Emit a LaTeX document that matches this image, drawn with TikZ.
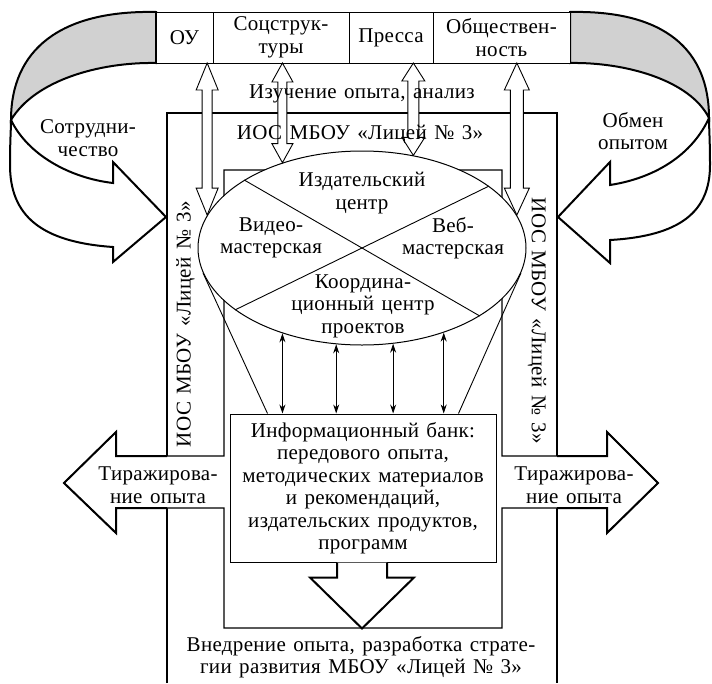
\documentclass[tikz,border=0pt]{standalone}
\usepackage{fontspec}
\setmainfont{Liberation Serif}[WordSpace=1.35,LetterSpace=1.5]
\usetikzlibrary{calc,positioning,arrows.meta,shapes.geometric}
% hollow double arrow: (top)(bottom)(head length:half shaft width)
\def\fatarrow(#1)(#2)(#3:#4){\draw[fatline] let \p1=(#1), \p2=(#2), \n1={#4+6} in
  (\p1) -- (\x1+\n1,\y1-#3) -- (\x1+#4,\y1-#3) -- (\x2+#4,\y2+#3) -- (\x2+\n1,\y2+#3)
  -- (\p2) -- (\x2-\n1,\y2+#3) -- (\x2-#4,\y2+#3) -- (\x1-#4,\y1-#3) -- (\x1-\n1,\y1-#3) -- cycle;}

\begin{document}
\begin{tikzpicture}[x=1pt,y=-1pt,
    every node/.style={font=\fontsize{21}{22.5}\selectfont},
    box/.style={draw,line width=1pt,fill=white,minimum height=51pt,inner sep=1pt,outer sep=0pt,align=center},
    frame/.style={line width=1.1pt},
    ribbon/.style={draw,line width=2pt,line join=miter,fill=white},
    fatline/.style={line width=0.9pt,fill=white,line join=miter},
    thinarrow/.style={<->,>={Stealth[length=9pt,width=6pt]},line width=0.9pt},
    lbl/.style={align=center,inner sep=0pt}]
  \useasboundingbox (0,0) rectangle (712,683);

  %%%%% curved arrows %%%%%
  \draw[ribbon,fill=black!18] (156,12) .. controls (60,10) and (11,50) .. (11,120)
    .. controls (35,80) and (100,62) .. (156,63) -- cycle;
  \draw[ribbon] (11,120) .. controls (28,155) and (70,178) .. (113,183) -- (113,162) -- (166,217)
    -- (113,262) -- (113,247) .. controls (40,242) and (10,215) .. (10,165)
    .. controls (10,140) and (11,130) .. (11,120) -- cycle;

  \draw[ribbon,fill=black!18] (570,12) .. controls (665,10) and (709,50) .. (709,118)
    .. controls (690,80) and (625,62) .. (570,63) -- cycle;
  \draw[ribbon] (709,118) .. controls (692,155) and (655,178) .. (610,185) -- (610,162) -- (558,217)
    -- (610,263) -- (610,240) .. controls (680,236) and (710,212) .. (710,165)
    .. controls (710,140) and (709,128) .. (709,118) -- cycle;

  %%%%% top row %%%%%
  \node[box,minimum width=57pt] (ou) at (184.5,37.5) {ОУ};
  \node[box,minimum width=136pt,right=0pt of ou] (soc) {Соцструк-\\туры};
  \node[box,minimum width=84pt,right=0pt of soc] (press) {Пресса};
  \node[box,minimum width=137pt,right=0pt of press] (obsh) {Обществен-\\ность};

  %%%%% frames %%%%%
  \draw[frame] (167,683) -- (167,113) -- (557,113) -- (557,683);
  \draw[frame,fill=white] (224,170) -- (224,456) -- (116,456) -- (116,432) -- (64,483) -- (116,533)
    -- (116,508) -- (224,508) -- (224,628) -- (502,628) -- (502,508) -- (607,508) -- (607,533)
    -- (658,483) -- (607,432) -- (607,456) -- (502,456) -- (502,170) -- cycle;
  \draw[ribbon,fill=none] (167,456) -- (116,456) -- (116,432) -- (64,483) -- (116,533) -- (116,508) -- (167,508);
  \draw[ribbon,fill=none] (557,456) -- (607,456) -- (607,432) -- (658,483) -- (607,533) -- (607,508) -- (557,508);

  %%%%% ellipse %%%%%
  \node[draw,fill=white,ellipse,line width=1pt,minimum width=328pt,minimum height=194pt,inner sep=0pt] (ell) at (362,248) {};
  \draw[line width=0.9pt] (ell.150) -- (ell.-30);
  \draw[line width=0.9pt] (ell.26) -- (ell.206);
  \node[lbl] (izd) at (362,193) {Издательский\\центр};
  \node[lbl] (video) at (271,238) {Видео-\\мастерская};
  \node[lbl] (web) at (453,238) {Веб-\\мастерская};
  \node[lbl] (koord) at (363,306) {Координа-\\ционный центр\\проектов};

  %%%%% bank %%%%%
  \node[draw,fill=white,line width=1pt,minimum width=266pt,minimum height=148pt,align=center,inner sep=0pt] (bank) at (363,488)
    {Информационный банк:\\передового опыта,\\методических материалов\\и рекомендаций,\\издательских продуктов,\\программ};
  \draw[ribbon] (bank.south) ++(-26,0) -- ++(0,15) -- ++(-27,0) -- ++(52,51) -- ++(52,-51) -- ++(-27,0) -- ++(0,-15);
  \draw[line width=0.9pt] (ell.189) -- ([xshift=38pt]bank.north west);
  \draw[line width=0.9pt] (ell.-9) -- ([xshift=-38pt]bank.north east);
  \foreach \a in {-133,-105,-72,-46}
    \draw[thinarrow] (ell.\a) -- (ell.\a |- bank.north);

  %%%%% hollow arrows %%%%%
  \fatarrow(ou.south -| ell.168)(ell.168)(27:5)
  \fatarrow(soc.south -| ell.133)(ell.133)(19:4.5)
  \fatarrow(press.south -| ell.61)(ell.61)(18:5.5)
  \fatarrow(obsh.south -| ell.12)(ell.12)(27:6.5)

  %%%%% labels %%%%%
  \node[lbl] (izuch) at (362,94) {Изучение опыта, анализ};
  \node[lbl] (iost) at (360,134) {ИОС МБОУ «Лицей №~3»};
  \node[lbl,rotate=90] (iosl) at (185.5,324) {ИОС МБОУ «Лицей №~3»};
  \node[lbl,rotate=-90] (iosr) at (537,321) {ИОС МБОУ «Лицей №~3»};
  \node[lbl] (sotr) at (88,138) {Сотрудни-\\чество};
  \node[lbl] (obmen) at (633,131) {Обмен\\опытом};
  \node[lbl] (tirl) at (158,485) {Тиражирова-\\ние опыта};
  \node[lbl] (tirr) at (574,485) {Тиражирова-\\ние опыта};
  \node[lbl] (vnedr) at (361,657) {Внедрение опыта, разработка страте-\\гии развития МБОУ «Лицей №~3»};
\end{tikzpicture}
\end{document}
